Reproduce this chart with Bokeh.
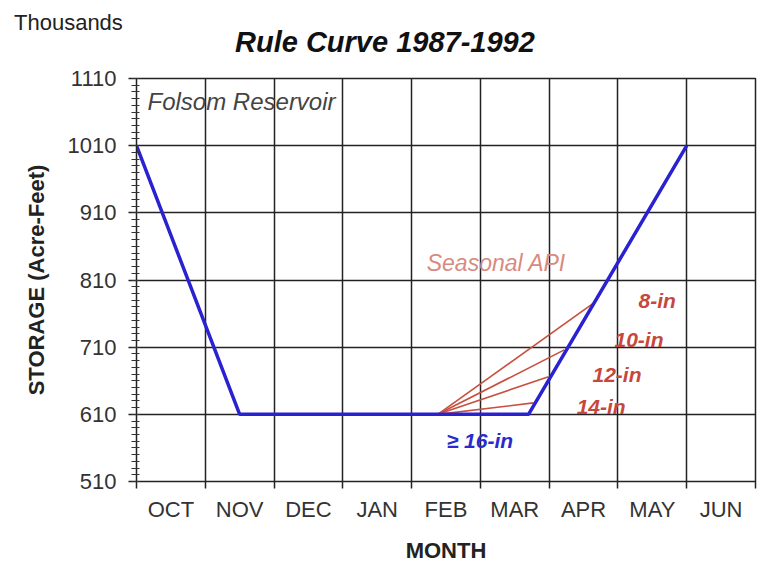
from bokeh.plotting import figure
from bokeh.models import Range1d, FixedTicker, Label, Div
from bokeh.layouts import column
from bokeh.embed import file_html
from bokeh.resources import INLINE

# ---- data ----
months = ["OCT", "NOV", "DEC", "JAN", "FEB", "MAR", "APR", "MAY", "JUN"]
storage_ticks = [510, 610, 710, 810, 910, 1010, 1110]

rule_month = [0.0, 1.5, 5.7, 8.0]
rule_storage = [1010, 610, 610, 1010]

api_labels = ["8-in", "10-in", "12-in", "14-in"]
api_start_month = [4.38, 4.38, 4.38, 4.38]
api_start_storage = [610, 610, 610, 610]
api_end_month = [6.65, 6.22, 5.99, 5.77]
api_end_storage = [776, 706, 666, 627]

title_text = "Rule Curve 1987-1992"
units_text = "Thousands"

FONT = "Liberation Sans"

header = Div(
    text=('<div style="position:relative;width:757px;height:58px;'
          'font-family:\'Liberation Sans\';overflow:visible;">'
          '<span style="position:absolute;left:14px;top:10px;font-size:22px;'
          'color:#222222;white-space:nowrap;line-height:normal;">' + units_text + '</span>'
          '<span style="position:absolute;left:235px;top:26px;font-size:29px;'
          'font-weight:bold;font-style:italic;color:#111111;white-space:nowrap;'
          'line-height:normal;">' + title_text + '</span></div>'),
    width=757, height=58, margin=0)

p = figure(width=757, height=507, output_backend="svg", toolbar_location=None,
           x_range=Range1d(0, 9), y_range=Range1d(510, 1110),
           min_border_left=136, min_border_right=2, min_border_top=20,
           min_border_bottom=83, margin=0)
p.title = None
p.background_fill_color = "white"
p.border_fill_color = None
p.outline_line_color = "#222222"
p.outline_line_width = 1.5

# x axis: labels centred between month boundaries, ticks at boundaries
half = [i + 0.5 for i in range(len(months))]
xt = FixedTicker(ticks=half, minor_ticks=list(range(len(months) + 1)))
p.xaxis.ticker = xt
p.xaxis.major_label_overrides = {h: m for h, m in zip(half, months)}
p.xaxis.major_tick_line_color = None
p.xaxis.major_tick_out = 7
p.xaxis.major_tick_in = 0
p.xaxis.minor_tick_out = 7
p.xaxis.minor_tick_in = 0
p.xaxis.minor_tick_line_color = "#222222"
p.xaxis.minor_tick_line_width = 1.5
p.xaxis.axis_line_color = "#222222"
p.xaxis.major_label_standoff = 8
p.xaxis.major_label_text_font = FONT
p.xaxis.major_label_text_font_size = "22px"
p.xaxis.major_label_text_color = "#333333"
p.xaxis.axis_label = "MONTH"
p.xaxis.axis_label_text_font = FONT
p.xaxis.axis_label_text_font_style = "bold"
p.xaxis.axis_label_text_font_size = "22px"
p.xaxis.axis_label_text_color = "#222222"
p.xaxis.axis_label_standoff = 13

p.xgrid.ticker = FixedTicker(ticks=list(range(len(months) + 1)))
p.xgrid.grid_line_color = "#222222"
p.xgrid.grid_line_width = 1.5

# y axis
yt = FixedTicker(ticks=storage_ticks,
                 minor_ticks=list(range(storage_ticks[0], storage_ticks[-1] + 1, 10)))
p.yaxis.ticker = yt
p.yaxis.major_tick_out = 8
p.yaxis.major_tick_in = 0
p.yaxis.minor_tick_out = 5
p.yaxis.minor_tick_in = 3
p.yaxis.major_tick_line_color = "#222222"
p.yaxis.minor_tick_line_color = "#333333"
p.yaxis.major_tick_line_width = 1.5
p.yaxis.axis_line_color = "#222222"
p.yaxis.major_label_standoff = 12
p.yaxis.major_label_text_font = FONT
p.yaxis.major_label_text_font_size = "22px"
p.yaxis.major_label_text_color = "#333333"
p.yaxis.axis_label = "STORAGE (Acre-Feet)"
p.yaxis.axis_label_text_font = FONT
p.yaxis.axis_label_text_font_style = "bold"
p.yaxis.axis_label_text_font_size = "22px"
p.yaxis.axis_label_text_color = "#222222"
p.yaxis.axis_label_standoff = 16

p.ygrid.grid_line_color = "#222222"
p.ygrid.grid_line_width = 1.5

# seasonal API lines
p.segment(x0=api_start_month, y0=api_start_storage, x1=api_end_month, y1=api_end_storage,
          line_color="#c8503f", line_width=1.6)

# rule curve
p.line(rule_month, rule_storage, line_color="#2a22d0", line_width=3.5)

def lab(x, y, t, size, color, style="normal", align="left", baseline="middle"):
    p.add_layout(Label(x=x, y=y, text=t, text_font=FONT, text_font_size=size,
                       text_color=color, text_font_style=style, text_align=align,
                       text_baseline=baseline))

lab(0.16, 1076, "Folsom Reservoir", "24px", "#444444", "italic")
lab(4.22, 835, "Seasonal API", "23px", "#d98a80", "italic")
api_pos = [(7.30, 780), (6.95, 722), (6.63, 670), (6.40, 621)]
for (x, y), t in zip(api_pos, api_labels):
    lab(x, y, t, "21px", "#c8473d", "bold italic")
lab(4.51, 571, "\u2265 16-in", "21px", "#2a2ad0", "bold italic")

layout = column(header, p, spacing=0)
open("out.html", "w").write(file_html(layout, INLINE))
